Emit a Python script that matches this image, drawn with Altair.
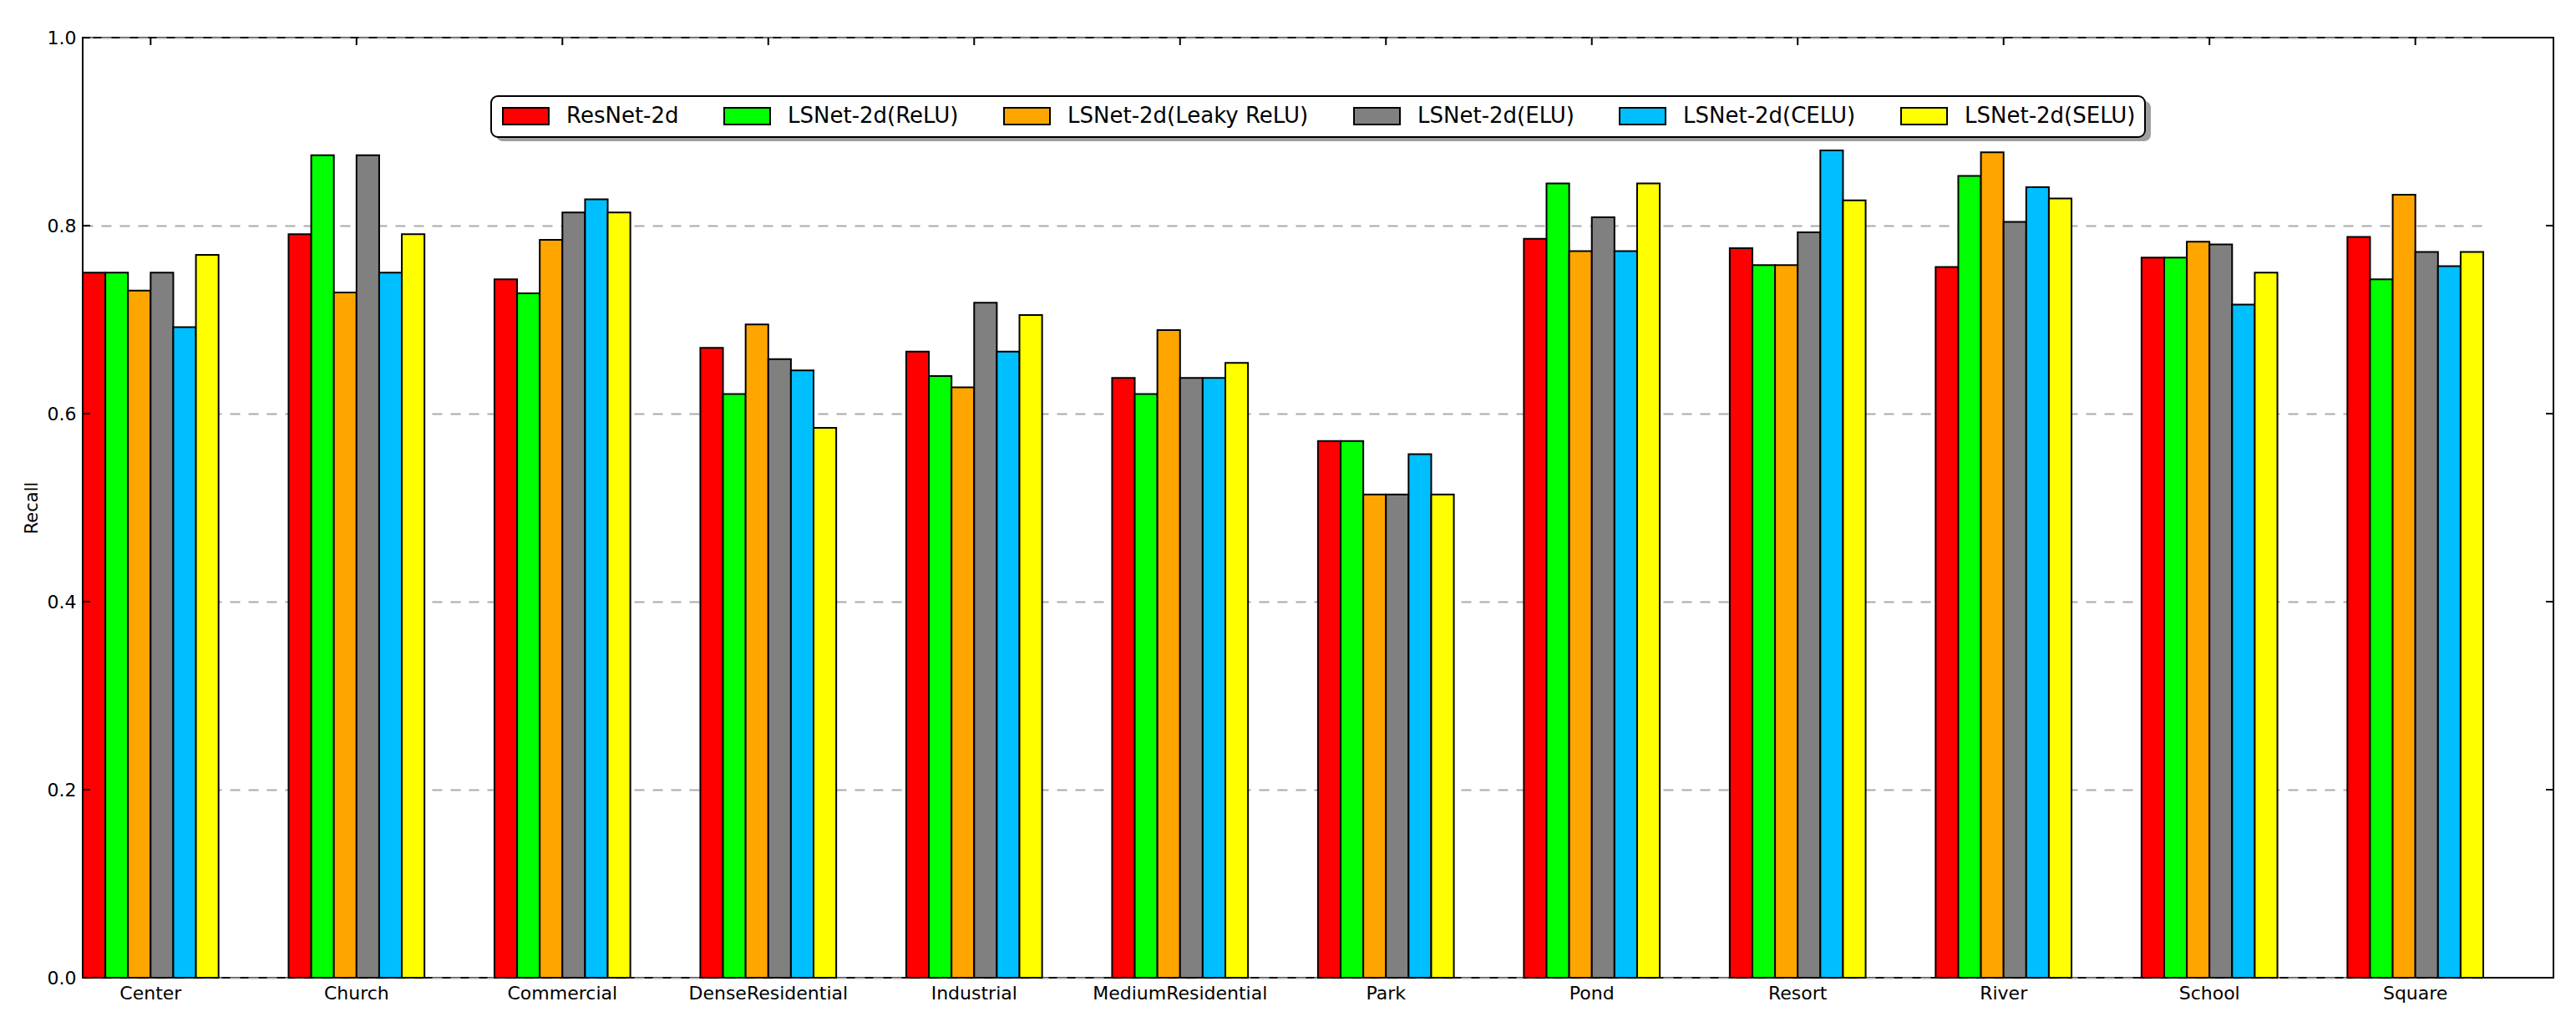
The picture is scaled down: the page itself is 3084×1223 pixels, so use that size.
import altair as alt
import pandas as pd

categories = ["Center", "Church", "Commercial", "DenseResidential", "Industrial",
              "MediumResidential", "Park", "Pond", "Resort", "River", "School", "Square"]
series = ["ResNet-2d", "LSNet-2d(ReLU)", "LSNet-2d(Leaky ReLU)", "LSNet-2d(ELU)",
          "LSNet-2d(CELU)", "LSNet-2d(SELU)"]
colors = ["#ff0000", "#00ff00", "#ffa500", "#808080", "#00bfff", "#ffff00"]

resnet = [0.750, 0.791, 0.743, 0.670, 0.666, 0.638, 0.571, 0.786, 0.776, 0.756, 0.766, 0.788]
relu   = [0.750, 0.875, 0.728, 0.621, 0.640, 0.621, 0.571, 0.845, 0.758, 0.853, 0.766, 0.743]
leaky  = [0.731, 0.729, 0.785, 0.695, 0.628, 0.689, 0.514, 0.773, 0.758, 0.878, 0.783, 0.833]
elu    = [0.750, 0.875, 0.814, 0.658, 0.718, 0.638, 0.514, 0.809, 0.793, 0.804, 0.780, 0.772]
celu   = [0.692, 0.750, 0.828, 0.646, 0.666, 0.638, 0.557, 0.773, 0.880, 0.841, 0.716, 0.757]
selu   = [0.769, 0.791, 0.814, 0.585, 0.705, 0.654, 0.514, 0.845, 0.827, 0.829, 0.750, 0.772]

y_ticks = [0.0, 0.2, 0.4, 0.6, 0.8, 1.0]

values = [resnet, relu, leaky, elu, celu, selu]
rows = []
for s, vals in zip(series, values):
    for c, v in zip(categories, vals):
        rows.append({"category": c, "model": s, "recall": v})
df = pd.DataFrame(rows)
df_cat = pd.DataFrame({"category": categories})
df_y = pd.DataFrame({"y": y_ticks})

W, H = 2958, 1125
FONT = "DejaVu Sans"
LEG_X, LEG_Y, LEG_W, LEG_H = 489, 70, 1981, 48

x_scale = alt.Scale(domain=categories, range=[0, 2874], paddingInner=0.34, paddingOuter=0)
y_scale = alt.Scale(domain=[0, 1], nice=False)

bars = alt.Chart(df).mark_bar(stroke="black", strokeWidth=2).encode(
    x=alt.X("category:N", scale=x_scale, sort=categories,
            axis=alt.Axis(title=None, labelAngle=0, labelFontSize=22, labelFont=FONT,
                          labelColor="black", tickSize=0, domain=False, labelPadding=8,
                          labelLimit=0, grid=False)),
    xOffset=alt.XOffset("model:N", sort=series, scale=alt.Scale(domain=series, paddingInner=0, paddingOuter=0)),
    y=alt.Y("recall:Q", scale=y_scale,
            axis=alt.Axis(title="Recall", values=y_ticks, format=".1f", labelFontSize=22,
                          labelFont=FONT, labelColor="black", titleFont=FONT,
                          titleFontSize=21, titleFontWeight="normal", titleColor="black",
                          titlePadding=8, tickSize=0, domain=False, labelPadding=8,
                          grid=True, gridDash=[12, 10], gridColor="#aaaaaa", gridWidth=2)),
    color=alt.Color("model:N", sort=series,
                    scale=alt.Scale(domain=series, range=colors),
                    legend=alt.Legend(title=None, orient="none", legendX=LEG_X, legendY=LEG_Y,
                                      direction="horizontal", columns=6,
                                      symbolType="M-1,-1H4.5V1H-1Z", symbolSize=400,
                                      symbolStrokeColor="black", symbolStrokeWidth=2,
                                      labelFontSize=26, labelFont=FONT, labelColor="black",
                                      labelLimit=0, labelOffset=53, columnPadding=50,
                                      padding=11, fillColor="white", strokeColor="black",
                                      cornerRadius=8, symbolOpacity=1)),
)

left_ticks = alt.Chart(df_y).mark_rule(color="black", strokeWidth=2).encode(
    y=alt.Y("y:Q", scale=y_scale), x=alt.value(0), x2=alt.value(9))
right_ticks = alt.Chart(df_y).mark_rule(color="black", strokeWidth=2).encode(
    y=alt.Y("y:Q", scale=y_scale), x=alt.value(W - 9), x2=alt.value(W))
top_ticks = alt.Chart(df_cat).mark_rule(color="black", strokeWidth=2).encode(
    x=alt.X("category:N", scale=x_scale, sort=categories), y=alt.value(0), y2=alt.value(9))

# legend drop shadow (matplotlib shadow=True)
shadow = alt.Chart(pd.DataFrame({"k": [0]})).mark_rect(
    color="#7f7f7f", opacity=0.75, cornerRadius=8).encode(
    x=alt.value(LEG_X + 6), x2=alt.value(LEG_X + LEG_W + 6),
    y=alt.value(LEG_Y + 6), y2=alt.value(LEG_Y + LEG_H + 6))

chart = alt.layer(bars, left_ticks, right_ticks, top_ticks, shadow).properties(
    width=W, height=H,
    autosize=alt.AutoSizeParams(type="none"),
    padding={"left": 91, "top": 37, "right": 19, "bottom": 45},
    background="white",
).configure_view(stroke="black", strokeWidth=2).configure_legend(strokeWidth=2)

chart.save("out.html", embed_options={"renderer": "svg", "actions": False})
